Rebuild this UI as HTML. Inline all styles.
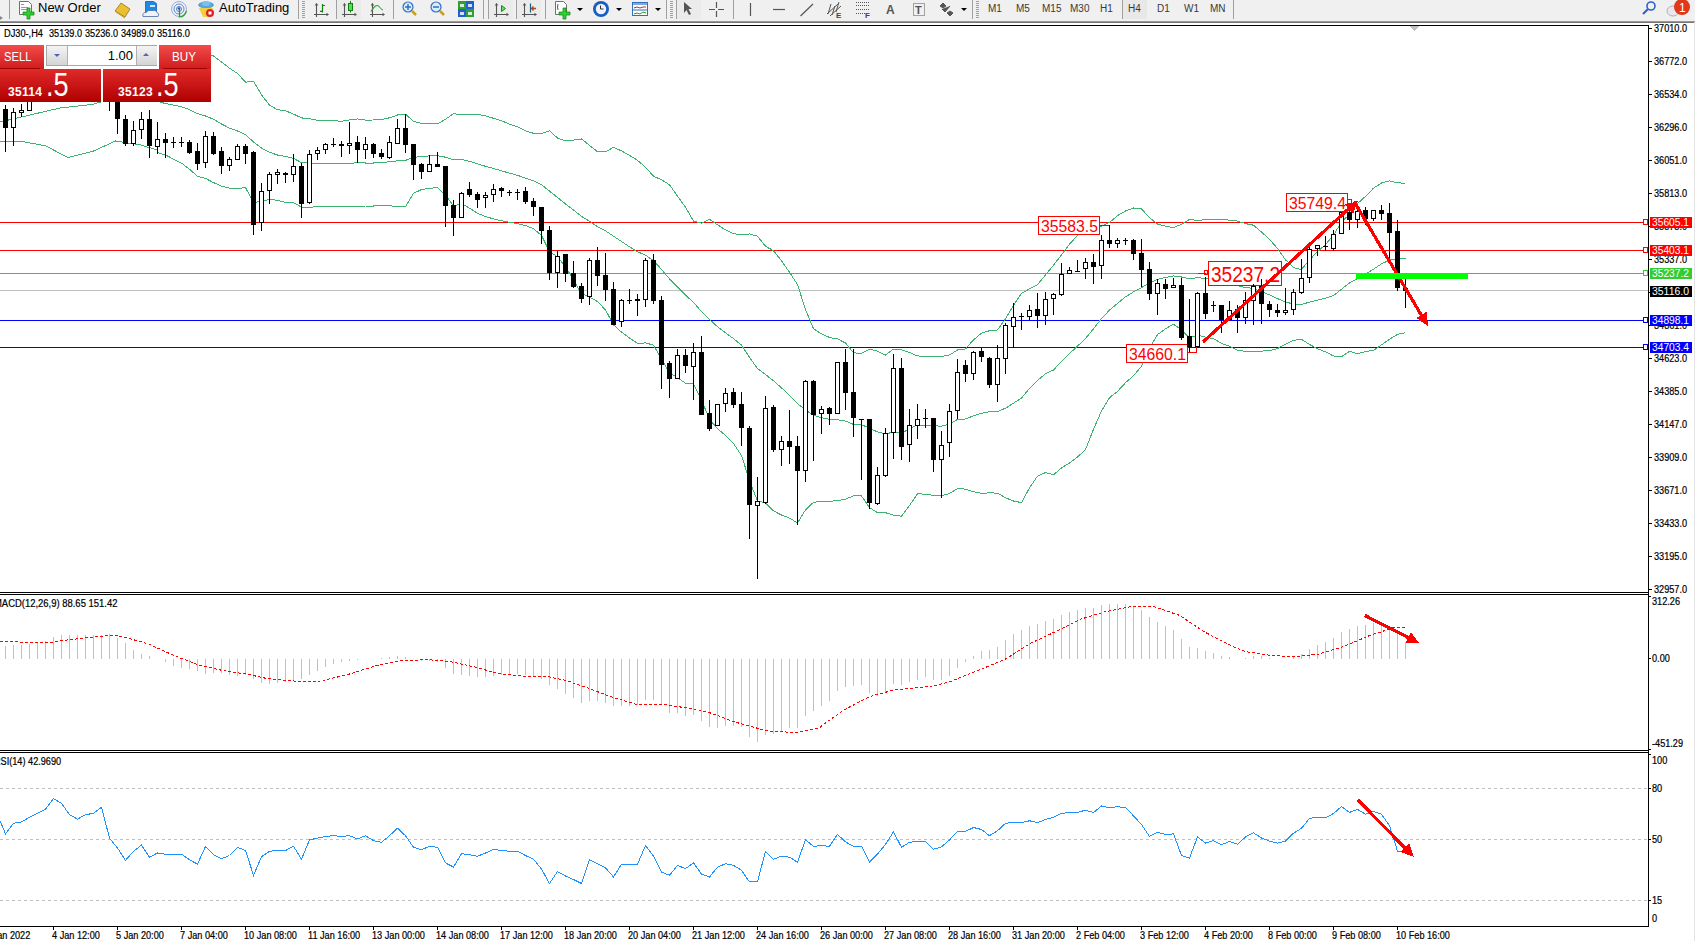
<!DOCTYPE html>
<html><head><meta charset="utf-8"><style>
html,body{margin:0;padding:0;}
body{width:1695px;height:941px;overflow:hidden;background:#fff;position:relative;font-family:"Liberation Sans",sans-serif;}
div{font-family:"Liberation Sans",sans-serif;white-space:nowrap;line-height:1.2}
svg text.ax{font-family:"Liberation Sans",sans-serif;font-size:10px;stroke:currentColor;stroke-width:0.2px}
</style></head><body>

<div style="position:absolute;left:0;top:0;width:1695px;height:21px;background:#f0f0f0"></div>
<div style="position:absolute;left:0;top:21px;width:1695px;height:2px;background:linear-gradient(#a8a8a8,#646464)"></div>
<div style="position:absolute;left:9px;top:0;width:1px;height:19px;background:#a0a0a0"></div><div style="position:absolute;left:298px;top:0;width:1px;height:19px;background:#a0a0a0"></div><div style="position:absolute;left:336px;top:0;width:1px;height:19px;background:#a0a0a0"></div><div style="position:absolute;left:393px;top:0;width:1px;height:19px;background:#a0a0a0"></div><div style="position:absolute;left:483px;top:0;width:1px;height:19px;background:#a0a0a0"></div><div style="position:absolute;left:488px;top:0;width:1px;height:19px;background:#a0a0a0"></div><div style="position:absolute;left:516px;top:0;width:1px;height:19px;background:#a0a0a0"></div><div style="position:absolute;left:545px;top:0;width:1px;height:19px;background:#a0a0a0"></div><div style="position:absolute;left:666px;top:0;width:1px;height:19px;background:#a0a0a0"></div><div style="position:absolute;left:676px;top:0;width:1px;height:19px;background:#a0a0a0"></div><div style="position:absolute;left:733px;top:0;width:1px;height:19px;background:#a0a0a0"></div><div style="position:absolute;left:972px;top:0;width:1px;height:19px;background:#a0a0a0"></div><div style="position:absolute;left:1122px;top:0;width:1px;height:19px;background:#a0a0a0"></div><div style="position:absolute;left:1233px;top:0;width:1px;height:19px;background:#a0a0a0"></div><div style="position:absolute;left:302px;top:1px;width:3px;height:17px;background:repeating-linear-gradient(#a0a0a0 0 1px,transparent 1px 2px)"></div><div style="position:absolute;left:670px;top:1px;width:3px;height:17px;background:repeating-linear-gradient(#a0a0a0 0 1px,transparent 1px 2px)"></div><div style="position:absolute;left:976px;top:1px;width:3px;height:17px;background:repeating-linear-gradient(#a0a0a0 0 1px,transparent 1px 2px)"></div>
<div style="position:absolute;left:38px;top:0px;font-size:13px;color:#000">New Order</div>
<div style="position:absolute;left:219px;top:0px;font-size:13px;color:#000">AutoTrading</div>
<div style="position:absolute;left:1123px;top:0;width:24px;height:19px;background:#e8e8e8"></div><div style="position:absolute;left:988px;top:3px;font-size:10px;color:#3a3a3a">M1</div><div style="position:absolute;left:1016px;top:3px;font-size:10px;color:#3a3a3a">M5</div><div style="position:absolute;left:1042px;top:3px;font-size:10px;color:#3a3a3a">M15</div><div style="position:absolute;left:1070px;top:3px;font-size:10px;color:#3a3a3a">M30</div><div style="position:absolute;left:1100px;top:3px;font-size:10px;color:#3a3a3a">H1</div><div style="position:absolute;left:1128px;top:3px;font-size:10px;color:#3a3a3a">H4</div><div style="position:absolute;left:1157px;top:3px;font-size:10px;color:#3a3a3a">D1</div><div style="position:absolute;left:1184px;top:3px;font-size:10px;color:#3a3a3a">W1</div><div style="position:absolute;left:1210px;top:3px;font-size:10px;color:#3a3a3a">MN</div>
<svg style="position:absolute;left:0;top:0" width="1695" height="21"><path d="M316.5,17 V3.5 M314.0,14.5 H327.5" stroke="#555" stroke-width="1.1" fill="none"/><path d="M314.7,5.5 L316.5,3 L318.3,5.5z M326.5,12.7 L329.0,14.5 L326.5,16.3z" fill="#555"/><path d="M322.5,4 V12.5 M322.5,5.5 H325 M320,11.3 H322.5" stroke="#108010" stroke-width="1.2" fill="none"/><rect x="337" y="0" width="24" height="19" fill="#ebebeb"/><path d="M344.5,17 V3.5 M342.0,14.5 H355.5" stroke="#555" stroke-width="1.1" fill="none"/><path d="M342.7,5.5 L344.5,3 L346.3,5.5z M354.5,12.7 L357.0,14.5 L354.5,16.3z" fill="#555"/><path d="M350.5,1 V12.5" stroke="#108010" stroke-width="1"/><rect x="348.5" y="3.5" width="4" height="7" fill="#50e050" stroke="#108010" stroke-width="1"/><path d="M372.5,17 V3.5 M370.0,14.5 H383.5" stroke="#555" stroke-width="1.1" fill="none"/><path d="M370.7,5.5 L372.5,3 L374.3,5.5z M382.5,12.7 L385.0,14.5 L382.5,16.3z" fill="#555"/><path d="M371,11.5 Q376,3 379,6.5 T383,10" stroke="#30a030" stroke-width="1.1" fill="none"/><rect x="489" y="0" width="24" height="19" fill="#ebebeb"/><path d="M496.5,17 V3.5 M494.0,14.5 H507.5" stroke="#555" stroke-width="1.1" fill="none"/><path d="M494.7,5.5 L496.5,3 L498.3,5.5z M506.5,12.7 L509.0,14.5 L506.5,16.3z" fill="#555"/><path d="M501.5,5.5 L505.5,8.5 L501.5,11.5z" fill="#60e060" stroke="#109010" stroke-width="1"/><rect x="517" y="0" width="24" height="19" fill="#ebebeb"/><path d="M524.5,17 V3.5 M522.0,14.5 H535.5" stroke="#555" stroke-width="1.1" fill="none"/><path d="M522.7,5.5 L524.5,3 L526.3,5.5z M534.5,12.7 L537.0,14.5 L534.5,16.3z" fill="#555"/><path d="M530.5,3.5 V12.5" stroke="#106090" stroke-width="1.2"/><path d="M536,8.5 H532 M533.5,6.5 L531.5,8.5 L533.5,10.5" stroke="#c04010" stroke-width="1.3" fill="none"/><rect x="677" y="0" width="24" height="19" fill="#ebebeb"/>
<path d="M0,16 l3,2 -3,2z" fill="#888"/>
<path d="M19.5,1.5 h9 l3,3 v10 h-12z" fill="#fff" stroke="#707070"/>
<rect x="21" y="4" width="3" height="1" fill="#999"/><rect x="21" y="7" width="7" height="1" fill="#999"/><rect x="21" y="9" width="7" height="1" fill="#999"/>
<path d="M27,8 h3 v4 h4 v3 h-4 v4 h-3 v-4 h-4 v-3 h4z" fill="#30d030" stroke="#108010" stroke-width="0.7"/>
<path d="M115,11 l6,-8 l9,6 l-5,8z" fill="#e8c030" stroke="#a07010" stroke-width="0.8"/>
<path d="M116,12 l9,6" stroke="#c09030" stroke-width="1"/>
<path d="M145.5,1.5 h8 l3,2 v9 h-11z" fill="#1e88e5" stroke="#1060c0" stroke-width="0.8"/>
<rect x="150" y="5" width="5" height="2" fill="#fff" opacity="0.8"/>
<path d="M143,16.5 q-1,-4 3,-4 q2,-3 6,-2 q4,-1 5,2 q3,1 1,4z" fill="#eef2fa" stroke="#4a6aa0" stroke-width="0.8"/>
<circle cx="179" cy="9" r="7.5" fill="none" stroke="#7aa0e0" stroke-width="0.8"/>
<circle cx="179" cy="9" r="5" fill="none" stroke="#5080d0" stroke-width="0.9"/>
<circle cx="179" cy="9" r="2.5" fill="none" stroke="#4070c0" stroke-width="0.9"/>
<circle cx="179" cy="8.5" r="1.2" fill="#2050b0"/>
<path d="M179.5,9 v8 q5,0 7,-6" fill="none" stroke="#20a020" stroke-width="1.2"/>
<ellipse cx="206" cy="5" rx="7.5" ry="3" fill="#5aa8e0" stroke="#3a88c0" stroke-width="0.6"/>
<ellipse cx="206" cy="3.5" rx="4" ry="2.5" fill="#7ac0f0"/>
<path d="M199,8 h14 l-4,9 h-6z" fill="#f0d040"/>
<circle cx="210" cy="13" r="4" fill="#e02020"/><rect x="208.5" y="11.5" width="3" height="3" fill="#fff"/>
<circle cx="408" cy="7" r="5" fill="#d8ecfa" stroke="#3070c0" stroke-width="1.2"/><path d="M405,7 h6 M408,4 v6" stroke="#3070c0" stroke-width="1.5"/><path d="M412,11 l4,4" stroke="#c8a020" stroke-width="2.5"/>
<circle cx="436" cy="7" r="5" fill="#d8ecfa" stroke="#3070c0" stroke-width="1.2"/><path d="M433,7 h6" stroke="#3070c0" stroke-width="1.5"/><path d="M440,11 l4,4" stroke="#c8a020" stroke-width="2.5"/>
<rect x="458" y="1" width="8" height="8" fill="#30a030"/><rect x="466" y="1" width="8" height="8" fill="#2060d0"/>
<rect x="458" y="9" width="8" height="8" fill="#2060d0"/><rect x="466" y="9" width="8" height="8" fill="#30a030"/>
<rect x="460" y="4" width="4" height="3" fill="#fff" opacity="0.8"/><rect x="468" y="4" width="4" height="3" fill="#fff" opacity="0.8"/><rect x="460" y="12" width="4" height="3" fill="#fff" opacity="0.8"/><rect x="468" y="12" width="4" height="3" fill="#fff" opacity="0.8"/>
<path d="M555.5,1.5 h8 l3,3 v10 h-11z" fill="#fff" stroke="#707070"/>
<path d="M558,4 q-1,3 0,6" stroke="#555" fill="none"/>
<path d="M563,8 h3 v4 h4 v3 h-4 v4 h-3 v-4 h-4 v-3 h4z" fill="#30d030" stroke="#108010" stroke-width="0.7"/>
<path d="M577,8 h6 l-3,3z" fill="#000"/>
<circle cx="601" cy="9" r="8" fill="#1a5ec0"/><circle cx="601" cy="9" r="5.2" fill="#eef4ff"/><path d="M600.5,5.5 v3.5 h3" stroke="#333" fill="none"/>
<path d="M616,8 h6 l-3,3z" fill="#000"/>
<rect x="632.5" y="2.5" width="15" height="13" fill="#fff" stroke="#3070c0"/><rect x="633" y="3" width="14" height="2" fill="#80a8e0"/><rect x="633" y="9.5" width="14" height="1" fill="#3070c0"/>
<path d="M634,8 l3,-1 3,1 3,-1 3,0" stroke="#c03020" fill="none"/><path d="M634,14 l3,-1 3,1 3,-2 3,1" stroke="#20a020" fill="none"/>
<path d="M655,8 h6 l-3,3z" fill="#000"/>
<path d="M684,2 l8,7 h-3.5 l2.5,5 -2,1 -2.5,-5 -2.5,3z" fill="#555"/>
<path d="M709,9.5 h6 M718,9.5 h6 M716.5,2 v6 M716.5,11 v6" stroke="#555" stroke-width="1.2"/>
<path d="M750.5,3 v13" stroke="#555" stroke-width="1.2"/>
<path d="M773,9.5 h12" stroke="#555" stroke-width="1.2"/>
<path d="M800.5,16 l12.5,-12" stroke="#555" stroke-width="1.2"/>
<path d="M827,14 l11,-10 M830,16 l11,-10 M831,4 l-3,10 M835,6 l-3,9 M839,2 l-3,10" stroke="#555" stroke-width="1"/>
<text x="836" y="18" font-size="8" font-weight="bold" fill="#444" font-family="Liberation Sans">E</text>
<path d="M856,2.5 h13 M856,5.5 h13 M856,9.5 h13 M856,13.5 h9" stroke="#555" stroke-dasharray="1,1"/>
<text x="865" y="18" font-size="8" font-weight="bold" fill="#444" font-family="Liberation Sans">F</text>
<text x="886" y="14" font-size="12" font-weight="bold" fill="#555" font-family="Liberation Sans">A</text>
<rect x="913.5" y="3.5" width="11" height="12" fill="none" stroke="#555" stroke-dasharray="1,1"/>
<text x="915" y="14" font-size="11" font-weight="bold" fill="#555" font-family="Liberation Sans">T</text>
<path d="M940,6 l3,-3 3,3 -3,2z M947,13 l3,-2 3,2 -3,3z M942,9 l3,3 5,-6" fill="#555" stroke="#555"/>
<path d="M961,8 h6 l-3,3z" fill="#000"/>
<circle cx="1651" cy="6" r="4" fill="none" stroke="#2a62d0" stroke-width="1.6"/><path d="M1648,9 l-5,5" stroke="#2a62d0" stroke-width="2.2"/>
<ellipse cx="1673" cy="11" rx="6" ry="5" fill="#e8e8ee" stroke="#b0b0b8"/>
<circle cx="1682" cy="7" r="8" fill="#e03818"/>
<text x="1679" y="12" font-size="12" fill="#fff" font-family="Liberation Sans">1</text>
</svg>

<svg style="position:absolute;left:0;top:0" width="1695" height="941" shape-rendering="crispEdges"><rect x="0" y="222" width="1648" height="1" fill="#ff0000"/><rect x="0" y="250" width="1648" height="1" fill="#ff0000"/><rect x="0" y="273" width="1648" height="1" fill="#32cd32"/><rect x="0" y="290" width="1648" height="1" fill="#c0c0c0"/><rect x="0" y="320" width="1648" height="1" fill="#0000ff"/><rect x="0" y="347" width="1648" height="1" fill="#0000ff"/><polyline points="0.0,122.0 30.0,115.0 60.0,108.0 93.0,104.4 110.0,99.0 150.0,99.0 165.5,103.6 173.5,105.1 181.5,106.7 189.5,109.6 197.5,113.7 205.5,116.0 213.5,119.2 221.5,124.0 229.5,128.1 237.5,131.0 245.5,134.8 253.5,141.9 261.5,148.1 269.5,152.3 277.5,155.0 285.5,156.5 293.5,158.4 301.5,162.6 309.5,163.0 317.5,163.5 325.5,163.6 333.5,163.7 341.5,163.9 349.5,163.4 357.5,162.7 365.5,163.0 373.5,163.0 381.5,162.6 389.5,161.7 397.5,160.8 405.5,160.4 413.5,157.4 421.5,156.4 429.5,155.9 437.5,155.7 445.5,157.2 453.5,159.8 461.5,159.3 469.5,161.3 477.5,163.8 485.5,166.3 493.5,168.5 501.5,170.8 509.5,173.2 517.5,175.3 525.5,178.2 533.5,180.9 541.5,184.6 549.5,191.1 557.5,197.5 565.5,203.9 573.5,210.0 581.5,216.4 589.5,221.2 597.5,226.6 605.5,230.8 613.5,236.2 621.5,241.5 629.5,246.8 637.5,251.8 645.5,255.1 653.5,260.7 661.5,269.4 669.5,278.8 677.5,286.9 685.5,295.1 693.5,302.4 701.5,311.6 709.5,319.4 717.5,326.7 725.5,332.7 733.5,338.6 741.5,345.1 749.5,357.3 757.5,368.6 765.5,374.5 773.5,380.8 781.5,387.9 789.5,395.2 797.5,403.7 805.5,409.8 813.5,415.4 821.5,417.6 829.5,419.4 837.5,419.7 845.5,421.1 853.5,424.4 861.5,424.6 869.5,428.3 877.5,431.9 885.5,433.9 893.5,432.1 901.5,433.0 909.5,429.0 917.5,424.9 925.5,425.4 933.5,425.9 941.5,426.1 949.5,424.3 957.5,419.3 965.5,419.0 973.5,415.8 981.5,413.2 989.5,411.8 997.5,411.6 1005.5,408.2 1013.5,403.2 1021.5,398.0 1029.5,388.4 1037.5,380.4 1045.5,373.7 1053.5,370.0 1061.5,361.3 1069.5,353.6 1077.5,346.2 1085.5,338.4 1093.5,328.8 1101.5,318.5 1109.5,310.1 1117.5,303.5 1125.5,296.8 1133.5,291.9 1141.5,287.6 1149.5,283.0 1157.5,279.3 1165.5,277.4 1173.5,275.9 1181.5,277.0 1189.5,278.8 1197.5,277.7 1205.5,278.4 1213.5,278.9 1221.5,281.3 1229.5,283.2 1237.5,285.6 1245.5,287.5 1253.5,288.5 1261.5,291.6 1269.5,294.9 1277.5,298.6 1285.5,302.0 1293.5,304.0 1301.5,304.4 1309.5,302.2 1317.5,300.2 1325.5,298.2 1333.5,295.6 1341.5,289.2 1349.5,282.9 1357.5,278.7 1365.5,274.0 1373.5,269.2 1381.5,263.9 1389.5,260.1 1397.5,258.5 1405.5,258.1" fill="none" stroke="#3cb371" stroke-width="1" /><polyline points="0.0,141.0 20.0,141.0 46.0,146.0 68.0,157.6 93.5,151.0 115.6,141.0 141.0,145.0 157.0,150.0 157.5,152.5 165.5,155.0 173.5,159.1 181.5,163.1 189.5,169.2 197.5,176.4 205.5,178.4 213.5,182.6 221.5,186.1 229.5,188.1 237.5,188.5 245.5,187.6 253.5,202.4 261.5,201.4 269.5,199.5 277.5,200.3 285.5,202.3 293.5,202.6 301.5,207.2 309.5,207.2 317.5,206.8 325.5,206.8 333.5,206.7 341.5,206.5 349.5,206.7 357.5,206.4 365.5,206.0 373.5,206.0 381.5,205.7 389.5,205.7 397.5,206.7 405.5,206.7 413.5,193.3 421.5,189.6 429.5,188.3 437.5,187.6 445.5,195.2 453.5,206.0 461.5,203.6 469.5,208.2 477.5,213.2 485.5,216.7 493.5,218.8 501.5,220.8 509.5,222.2 517.5,223.7 525.5,225.6 533.5,228.5 541.5,235.6 549.5,251.5 557.5,256.9 565.5,266.9 573.5,279.9 581.5,293.8 589.5,296.9 597.5,301.6 605.5,309.9 613.5,324.9 621.5,332.1 629.5,338.1 637.5,343.4 645.5,342.9 653.5,345.1 661.5,359.0 669.5,372.8 677.5,377.7 685.5,383.2 693.5,383.9 701.5,400.0 709.5,419.4 717.5,428.7 725.5,435.4 733.5,443.6 741.5,455.4 749.5,480.7 757.5,501.0 765.5,502.8 773.5,510.9 781.5,515.0 789.5,518.1 797.5,522.9 805.5,509.9 813.5,502.3 821.5,501.4 829.5,501.3 837.5,500.6 845.5,499.2 853.5,495.8 861.5,496.0 869.5,507.5 877.5,512.7 885.5,512.7 893.5,515.1 901.5,516.3 909.5,505.5 917.5,493.9 925.5,494.1 933.5,495.4 941.5,495.7 949.5,493.5 957.5,488.6 965.5,489.1 973.5,491.8 981.5,493.3 989.5,492.9 997.5,493.1 1005.5,497.8 1013.5,501.0 1021.5,502.6 1029.5,487.8 1037.5,476.2 1045.5,472.5 1053.5,474.8 1061.5,467.9 1069.5,463.0 1077.5,456.9 1085.5,449.7 1093.5,429.2 1101.5,411.0 1109.5,397.7 1117.5,391.4 1125.5,382.7 1133.5,375.8 1141.5,366.3 1149.5,348.2 1157.5,334.6 1165.5,328.8 1173.5,324.2 1181.5,329.7 1189.5,338.1 1197.5,335.0 1205.5,337.2 1213.5,338.5 1221.5,343.4 1229.5,346.3 1237.5,350.2 1245.5,351.4 1253.5,351.7 1261.5,351.1 1269.5,350.6 1277.5,348.5 1285.5,344.3 1293.5,340.4 1301.5,339.3 1309.5,344.4 1317.5,348.8 1325.5,351.8 1333.5,356.0 1341.5,356.6 1349.5,351.3 1357.5,353.8 1365.5,351.6 1373.5,350.3 1381.5,344.9 1389.5,339.3 1397.5,334.3 1405.5,332.8" fill="none" stroke="#3cb371" stroke-width="1" /><polyline points="0.0,100.0 60.0,80.0 100.0,60.0 140.0,45.0 157.0,50.0 157.5,53.3 165.5,52.2 173.5,51.1 181.5,50.4 189.5,50.1 197.5,51.0 205.5,53.7 213.5,55.9 221.5,61.9 229.5,68.2 237.5,73.5 245.5,82.1 253.5,81.4 261.5,94.8 269.5,105.1 277.5,109.7 285.5,110.7 293.5,114.1 301.5,117.9 309.5,118.8 317.5,120.2 325.5,120.4 333.5,120.7 341.5,121.3 349.5,120.0 357.5,118.9 365.5,120.1 373.5,120.0 381.5,119.5 389.5,117.8 397.5,115.0 405.5,114.1 413.5,121.5 421.5,123.3 429.5,123.6 437.5,123.8 445.5,119.3 453.5,113.6 461.5,114.9 469.5,114.4 477.5,114.3 485.5,115.9 493.5,118.3 501.5,120.7 509.5,124.2 517.5,126.8 525.5,130.8 533.5,133.3 541.5,133.5 549.5,130.7 557.5,138.0 565.5,140.9 573.5,140.1 581.5,138.9 589.5,145.4 597.5,151.7 605.5,151.7 613.5,147.4 621.5,150.9 629.5,155.4 637.5,160.3 645.5,167.2 653.5,176.2 661.5,179.8 669.5,184.7 677.5,196.2 685.5,207.1 693.5,221.0 701.5,223.2 709.5,219.3 717.5,224.8 725.5,229.9 733.5,233.6 741.5,234.8 749.5,233.9 757.5,236.2 765.5,246.3 773.5,250.7 781.5,260.8 789.5,272.3 797.5,284.5 805.5,309.6 813.5,328.6 821.5,333.9 829.5,337.5 837.5,338.9 845.5,343.0 853.5,352.9 861.5,353.2 869.5,349.2 877.5,351.1 885.5,355.1 893.5,349.1 901.5,349.8 909.5,352.5 917.5,355.9 925.5,356.7 933.5,356.4 941.5,356.4 949.5,355.0 957.5,350.0 965.5,348.9 973.5,339.9 981.5,333.1 989.5,330.7 997.5,330.0 1005.5,318.7 1013.5,305.3 1021.5,293.4 1029.5,288.9 1037.5,284.6 1045.5,274.9 1053.5,265.2 1061.5,254.8 1069.5,244.2 1077.5,235.4 1085.5,227.1 1093.5,228.3 1101.5,226.1 1109.5,222.5 1117.5,215.6 1125.5,211.0 1133.5,208.0 1141.5,208.8 1149.5,217.8 1157.5,224.0 1165.5,226.1 1173.5,227.6 1181.5,224.3 1189.5,219.5 1197.5,220.4 1205.5,219.7 1213.5,219.4 1221.5,219.2 1229.5,220.2 1237.5,221.1 1245.5,223.6 1253.5,225.2 1261.5,232.1 1269.5,239.2 1277.5,248.6 1285.5,259.8 1293.5,267.6 1301.5,269.5 1309.5,259.9 1317.5,251.7 1325.5,244.6 1333.5,235.2 1341.5,221.9 1349.5,214.4 1357.5,203.6 1365.5,196.4 1373.5,188.2 1381.5,183.0 1389.5,180.9 1397.5,182.8 1405.5,183.3" fill="none" stroke="#3cb371" stroke-width="1" /><rect x="1038.5" y="216.5" width="61" height="18" fill="#fff" stroke="#ff0000" stroke-width="1"/><text x="1041" y="232" font-size="17" fill="#ff0000" font-family="Liberation Sans" textLength="57" lengthAdjust="spacingAndGlyphs">35583.5</text><rect x="1100" y="225" width="9" height="1" fill="#ff0000"/><rect x="1286.5" y="193.5" width="61" height="18" fill="#fff" stroke="#ff0000" stroke-width="1"/><text x="1289" y="209" font-size="17" fill="#ff0000" font-family="Liberation Sans" textLength="57" lengthAdjust="spacingAndGlyphs">35749.4</text><rect x="1208.5" y="261.5" width="73" height="24" fill="#fff" stroke="#ff0000" stroke-width="1"/><text x="1211" y="282" font-size="22" fill="#ff0000" font-family="Liberation Sans" textLength="69" lengthAdjust="spacingAndGlyphs">35237.2</text><rect x="1198" y="273" width="8" height="1" fill="#ff0000"/><rect x="1204.5" y="270.5" width="3" height="4" fill="none" stroke="#ff0000"/><rect x="1126.5" y="344.5" width="61" height="18" fill="#fff" stroke="#ff0000" stroke-width="1"/><text x="1129" y="360" font-size="17" fill="#ff0000" font-family="Liberation Sans" textLength="57" lengthAdjust="spacingAndGlyphs">34660.1</text><rect x="1188" y="352" width="9" height="1" fill="#ff0000"/><rect x="1196" y="346" width="1" height="7" fill="#ff0000"/><g><rect x="5" y="105" width="1" height="47" fill="#000"/><rect x="3" y="109" width="5" height="19" fill="#000"/><rect x="13" y="108" width="1" height="38" fill="#000"/><rect x="11" y="112" width="5" height="16" fill="#000"/><rect x="12" y="113" width="3" height="14" fill="#fff"/><rect x="21" y="104" width="1" height="13" fill="#000"/><rect x="19" y="110" width="5" height="3" fill="#000"/><rect x="20" y="111" width="3" height="1" fill="#fff"/><rect x="29" y="90" width="1" height="21" fill="#000"/><rect x="27" y="95" width="5" height="16" fill="#000"/><rect x="28" y="96" width="3" height="14" fill="#fff"/><rect x="37" y="80" width="1" height="18" fill="#000"/><rect x="35" y="83" width="5" height="12" fill="#000"/><rect x="36" y="84" width="3" height="10" fill="#fff"/><rect x="45" y="79" width="1" height="14" fill="#000"/><rect x="43" y="83" width="5" height="6" fill="#000"/><rect x="53" y="84" width="1" height="11" fill="#000"/><rect x="51" y="89" width="5" height="2" fill="#000"/><rect x="61" y="66" width="1" height="26" fill="#000"/><rect x="59" y="70" width="5" height="20" fill="#000"/><rect x="60" y="71" width="3" height="18" fill="#fff"/><rect x="69" y="65" width="1" height="15" fill="#000"/><rect x="67" y="70" width="5" height="7" fill="#000"/><rect x="77" y="74" width="1" height="18" fill="#000"/><rect x="75" y="77" width="5" height="11" fill="#000"/><rect x="85" y="74" width="1" height="19" fill="#000"/><rect x="83" y="78" width="5" height="10" fill="#000"/><rect x="84" y="79" width="3" height="8" fill="#fff"/><rect x="93" y="74" width="1" height="14" fill="#000"/><rect x="91" y="78" width="5" height="6" fill="#000"/><rect x="101" y="62" width="1" height="24" fill="#000"/><rect x="99" y="66" width="5" height="18" fill="#000"/><rect x="100" y="67" width="3" height="16" fill="#fff"/><rect x="109" y="62" width="1" height="49" fill="#000"/><rect x="107" y="66" width="5" height="24" fill="#000"/><rect x="117" y="96" width="1" height="38" fill="#000"/><rect x="115" y="100" width="5" height="19" fill="#000"/><rect x="125" y="115" width="1" height="31" fill="#000"/><rect x="123" y="119" width="5" height="25" fill="#000"/><rect x="133" y="121" width="1" height="25" fill="#000"/><rect x="131" y="130" width="5" height="14" fill="#000"/><rect x="132" y="131" width="3" height="12" fill="#fff"/><rect x="141" y="112" width="1" height="27" fill="#000"/><rect x="139" y="119" width="5" height="11" fill="#000"/><rect x="140" y="120" width="3" height="9" fill="#fff"/><rect x="149" y="110" width="1" height="48" fill="#000"/><rect x="147" y="119" width="5" height="27" fill="#000"/><rect x="157" y="122" width="1" height="32" fill="#000"/><rect x="155" y="139" width="5" height="8" fill="#000"/><rect x="156" y="140" width="3" height="6" fill="#fff"/><rect x="165" y="133" width="1" height="25" fill="#000"/><rect x="163" y="139" width="5" height="4" fill="#000"/><rect x="173" y="137" width="1" height="11" fill="#000"/><rect x="171" y="142" width="5" height="1" fill="#000"/><rect x="181" y="137" width="1" height="10" fill="#000"/><rect x="179" y="142" width="5" height="1" fill="#000"/><rect x="189" y="140" width="1" height="14" fill="#000"/><rect x="187" y="142" width="5" height="11" fill="#000"/><rect x="197" y="143" width="1" height="27" fill="#000"/><rect x="195" y="151" width="5" height="13" fill="#000"/><rect x="205" y="131" width="1" height="37" fill="#000"/><rect x="203" y="136" width="5" height="27" fill="#000"/><rect x="204" y="137" width="3" height="25" fill="#fff"/><rect x="213" y="132" width="1" height="23" fill="#000"/><rect x="211" y="136" width="5" height="18" fill="#000"/><rect x="221" y="147" width="1" height="27" fill="#000"/><rect x="219" y="151" width="5" height="15" fill="#000"/><rect x="229" y="157" width="1" height="14" fill="#000"/><rect x="227" y="159" width="5" height="7" fill="#000"/><rect x="228" y="160" width="3" height="5" fill="#fff"/><rect x="237" y="144" width="1" height="16" fill="#000"/><rect x="235" y="146" width="5" height="14" fill="#000"/><rect x="236" y="147" width="3" height="12" fill="#fff"/><rect x="245" y="144" width="1" height="20" fill="#000"/><rect x="243" y="146" width="5" height="8" fill="#000"/><rect x="253" y="151" width="1" height="84" fill="#000"/><rect x="251" y="152" width="5" height="73" fill="#000"/><rect x="261" y="183" width="1" height="48" fill="#000"/><rect x="259" y="191" width="5" height="32" fill="#000"/><rect x="260" y="192" width="3" height="30" fill="#fff"/><rect x="269" y="172" width="1" height="32" fill="#000"/><rect x="267" y="174" width="5" height="17" fill="#000"/><rect x="268" y="175" width="3" height="15" fill="#fff"/><rect x="277" y="169" width="1" height="15" fill="#000"/><rect x="275" y="172" width="5" height="3" fill="#000"/><rect x="276" y="173" width="3" height="1" fill="#fff"/><rect x="285" y="172" width="1" height="11" fill="#000"/><rect x="283" y="173" width="5" height="2" fill="#000"/><rect x="293" y="154" width="1" height="28" fill="#000"/><rect x="291" y="166" width="5" height="9" fill="#000"/><rect x="292" y="167" width="3" height="7" fill="#fff"/><rect x="301" y="163" width="1" height="55" fill="#000"/><rect x="299" y="166" width="5" height="38" fill="#000"/><rect x="309" y="150" width="1" height="54" fill="#000"/><rect x="307" y="154" width="5" height="49" fill="#000"/><rect x="308" y="155" width="3" height="47" fill="#fff"/><rect x="317" y="147" width="1" height="13" fill="#000"/><rect x="315" y="150" width="5" height="4" fill="#000"/><rect x="316" y="151" width="3" height="2" fill="#fff"/><rect x="325" y="143" width="1" height="11" fill="#000"/><rect x="323" y="144" width="5" height="6" fill="#000"/><rect x="324" y="145" width="3" height="4" fill="#fff"/><rect x="333" y="138" width="1" height="9" fill="#000"/><rect x="331" y="144" width="5" height="1" fill="#000"/><rect x="341" y="141" width="1" height="16" fill="#000"/><rect x="339" y="144" width="5" height="2" fill="#000"/><rect x="349" y="122" width="1" height="32" fill="#000"/><rect x="347" y="143" width="5" height="3" fill="#000"/><rect x="348" y="144" width="3" height="1" fill="#fff"/><rect x="357" y="136" width="1" height="27" fill="#000"/><rect x="355" y="142" width="5" height="8" fill="#000"/><rect x="365" y="137" width="1" height="22" fill="#000"/><rect x="363" y="144" width="5" height="6" fill="#000"/><rect x="364" y="145" width="3" height="4" fill="#fff"/><rect x="373" y="143" width="1" height="15" fill="#000"/><rect x="371" y="144" width="5" height="10" fill="#000"/><rect x="381" y="149" width="1" height="10" fill="#000"/><rect x="379" y="153" width="5" height="4" fill="#000"/><rect x="389" y="136" width="1" height="23" fill="#000"/><rect x="387" y="142" width="5" height="16" fill="#000"/><rect x="388" y="143" width="3" height="14" fill="#fff"/><rect x="397" y="119" width="1" height="25" fill="#000"/><rect x="395" y="128" width="5" height="16" fill="#000"/><rect x="396" y="129" width="3" height="14" fill="#fff"/><rect x="405" y="114" width="1" height="39" fill="#000"/><rect x="403" y="128" width="5" height="17" fill="#000"/><rect x="413" y="144" width="1" height="36" fill="#000"/><rect x="411" y="144" width="5" height="21" fill="#000"/><rect x="421" y="163" width="1" height="16" fill="#000"/><rect x="419" y="164" width="5" height="8" fill="#000"/><rect x="429" y="155" width="1" height="17" fill="#000"/><rect x="427" y="164" width="5" height="8" fill="#000"/><rect x="428" y="165" width="3" height="6" fill="#fff"/><rect x="437" y="152" width="1" height="15" fill="#000"/><rect x="435" y="164" width="5" height="3" fill="#000"/><rect x="445" y="166" width="1" height="61" fill="#000"/><rect x="443" y="166" width="5" height="40" fill="#000"/><rect x="453" y="200" width="1" height="36" fill="#000"/><rect x="451" y="205" width="5" height="13" fill="#000"/><rect x="461" y="192" width="1" height="26" fill="#000"/><rect x="459" y="193" width="5" height="25" fill="#000"/><rect x="460" y="194" width="3" height="23" fill="#fff"/><rect x="469" y="182" width="1" height="15" fill="#000"/><rect x="467" y="189" width="5" height="6" fill="#000"/><rect x="477" y="192" width="1" height="16" fill="#000"/><rect x="475" y="194" width="5" height="6" fill="#000"/><rect x="485" y="192" width="1" height="16" fill="#000"/><rect x="483" y="195" width="5" height="3" fill="#000"/><rect x="484" y="196" width="3" height="1" fill="#fff"/><rect x="493" y="184" width="1" height="18" fill="#000"/><rect x="491" y="189" width="5" height="6" fill="#000"/><rect x="492" y="190" width="3" height="4" fill="#fff"/><rect x="501" y="187" width="1" height="10" fill="#000"/><rect x="499" y="188" width="5" height="3" fill="#000"/><rect x="509" y="190" width="1" height="6" fill="#000"/><rect x="507" y="192" width="5" height="1" fill="#000"/><rect x="517" y="189" width="1" height="11" fill="#000"/><rect x="515" y="192" width="5" height="1" fill="#000"/><rect x="525" y="187" width="1" height="17" fill="#000"/><rect x="523" y="191" width="5" height="11" fill="#000"/><rect x="533" y="198" width="1" height="18" fill="#000"/><rect x="531" y="201" width="5" height="6" fill="#000"/><rect x="541" y="207" width="1" height="37" fill="#000"/><rect x="539" y="207" width="5" height="24" fill="#000"/><rect x="549" y="226" width="1" height="54" fill="#000"/><rect x="547" y="230" width="5" height="43" fill="#000"/><rect x="557" y="251" width="1" height="37" fill="#000"/><rect x="555" y="256" width="5" height="17" fill="#000"/><rect x="556" y="257" width="3" height="15" fill="#fff"/><rect x="565" y="254" width="1" height="28" fill="#000"/><rect x="563" y="254" width="5" height="20" fill="#000"/><rect x="573" y="261" width="1" height="27" fill="#000"/><rect x="571" y="273" width="5" height="14" fill="#000"/><rect x="581" y="283" width="1" height="20" fill="#000"/><rect x="579" y="286" width="5" height="13" fill="#000"/><rect x="589" y="258" width="1" height="47" fill="#000"/><rect x="587" y="260" width="5" height="37" fill="#000"/><rect x="588" y="261" width="3" height="35" fill="#fff"/><rect x="597" y="247" width="1" height="39" fill="#000"/><rect x="595" y="260" width="5" height="16" fill="#000"/><rect x="605" y="253" width="1" height="48" fill="#000"/><rect x="603" y="275" width="5" height="15" fill="#000"/><rect x="613" y="282" width="1" height="43" fill="#000"/><rect x="611" y="289" width="5" height="36" fill="#000"/><rect x="621" y="299" width="1" height="28" fill="#000"/><rect x="619" y="300" width="5" height="22" fill="#000"/><rect x="620" y="301" width="3" height="20" fill="#fff"/><rect x="629" y="289" width="1" height="15" fill="#000"/><rect x="627" y="300" width="5" height="1" fill="#000"/><rect x="637" y="294" width="1" height="22" fill="#000"/><rect x="635" y="299" width="5" height="2" fill="#000"/><rect x="645" y="258" width="1" height="49" fill="#000"/><rect x="643" y="260" width="5" height="40" fill="#000"/><rect x="644" y="261" width="3" height="38" fill="#fff"/><rect x="653" y="254" width="1" height="50" fill="#000"/><rect x="651" y="260" width="5" height="41" fill="#000"/><rect x="661" y="296" width="1" height="93" fill="#000"/><rect x="659" y="300" width="5" height="65" fill="#000"/><rect x="669" y="361" width="1" height="37" fill="#000"/><rect x="667" y="363" width="5" height="16" fill="#000"/><rect x="677" y="349" width="1" height="30" fill="#000"/><rect x="675" y="355" width="5" height="24" fill="#000"/><rect x="676" y="356" width="3" height="22" fill="#fff"/><rect x="685" y="349" width="1" height="24" fill="#000"/><rect x="683" y="355" width="5" height="11" fill="#000"/><rect x="693" y="343" width="1" height="57" fill="#000"/><rect x="691" y="352" width="5" height="15" fill="#000"/><rect x="692" y="353" width="3" height="13" fill="#fff"/><rect x="701" y="336" width="1" height="79" fill="#000"/><rect x="699" y="352" width="5" height="63" fill="#000"/><rect x="709" y="400" width="1" height="31" fill="#000"/><rect x="707" y="413" width="5" height="16" fill="#000"/><rect x="717" y="404" width="1" height="22" fill="#000"/><rect x="715" y="404" width="5" height="22" fill="#000"/><rect x="716" y="405" width="3" height="20" fill="#fff"/><rect x="725" y="388" width="1" height="24" fill="#000"/><rect x="723" y="393" width="5" height="11" fill="#000"/><rect x="724" y="394" width="3" height="9" fill="#fff"/><rect x="733" y="388" width="1" height="20" fill="#000"/><rect x="731" y="392" width="5" height="13" fill="#000"/><rect x="741" y="392" width="1" height="54" fill="#000"/><rect x="739" y="404" width="5" height="24" fill="#000"/><rect x="749" y="426" width="1" height="113" fill="#000"/><rect x="747" y="428" width="5" height="77" fill="#000"/><rect x="757" y="477" width="1" height="102" fill="#000"/><rect x="755" y="501" width="5" height="5" fill="#000"/><rect x="756" y="502" width="3" height="3" fill="#fff"/><rect x="765" y="396" width="1" height="108" fill="#000"/><rect x="763" y="408" width="5" height="95" fill="#000"/><rect x="764" y="409" width="3" height="93" fill="#fff"/><rect x="773" y="405" width="1" height="47" fill="#000"/><rect x="771" y="407" width="5" height="43" fill="#000"/><rect x="781" y="436" width="1" height="30" fill="#000"/><rect x="779" y="441" width="5" height="9" fill="#000"/><rect x="780" y="442" width="3" height="7" fill="#fff"/><rect x="789" y="410" width="1" height="54" fill="#000"/><rect x="787" y="441" width="5" height="6" fill="#000"/><rect x="797" y="436" width="1" height="89" fill="#000"/><rect x="795" y="446" width="5" height="25" fill="#000"/><rect x="805" y="380" width="1" height="102" fill="#000"/><rect x="803" y="381" width="5" height="90" fill="#000"/><rect x="804" y="382" width="3" height="88" fill="#fff"/><rect x="813" y="380" width="1" height="81" fill="#000"/><rect x="811" y="381" width="5" height="34" fill="#000"/><rect x="821" y="406" width="1" height="28" fill="#000"/><rect x="819" y="409" width="5" height="5" fill="#000"/><rect x="820" y="410" width="3" height="3" fill="#fff"/><rect x="829" y="407" width="1" height="18" fill="#000"/><rect x="827" y="408" width="5" height="6" fill="#000"/><rect x="837" y="362" width="1" height="52" fill="#000"/><rect x="835" y="362" width="5" height="52" fill="#000"/><rect x="836" y="363" width="3" height="50" fill="#fff"/><rect x="845" y="349" width="1" height="61" fill="#000"/><rect x="843" y="362" width="5" height="31" fill="#000"/><rect x="853" y="349" width="1" height="88" fill="#000"/><rect x="851" y="392" width="5" height="26" fill="#000"/><rect x="861" y="419" width="1" height="61" fill="#000"/><rect x="859" y="419" width="5" height="1" fill="#000"/><rect x="869" y="419" width="1" height="90" fill="#000"/><rect x="867" y="419" width="5" height="84" fill="#000"/><rect x="877" y="467" width="1" height="38" fill="#000"/><rect x="875" y="475" width="5" height="29" fill="#000"/><rect x="876" y="476" width="3" height="27" fill="#fff"/><rect x="885" y="428" width="1" height="49" fill="#000"/><rect x="883" y="433" width="5" height="43" fill="#000"/><rect x="884" y="434" width="3" height="41" fill="#fff"/><rect x="893" y="354" width="1" height="105" fill="#000"/><rect x="891" y="368" width="5" height="65" fill="#000"/><rect x="892" y="369" width="3" height="63" fill="#fff"/><rect x="901" y="358" width="1" height="102" fill="#000"/><rect x="899" y="368" width="5" height="79" fill="#000"/><rect x="909" y="409" width="1" height="53" fill="#000"/><rect x="907" y="425" width="5" height="20" fill="#000"/><rect x="908" y="426" width="3" height="18" fill="#fff"/><rect x="917" y="404" width="1" height="35" fill="#000"/><rect x="915" y="419" width="5" height="7" fill="#000"/><rect x="916" y="420" width="3" height="5" fill="#fff"/><rect x="925" y="409" width="1" height="19" fill="#000"/><rect x="923" y="418" width="5" height="1" fill="#000"/><rect x="933" y="418" width="1" height="54" fill="#000"/><rect x="931" y="418" width="5" height="42" fill="#000"/><rect x="941" y="431" width="1" height="67" fill="#000"/><rect x="939" y="445" width="5" height="15" fill="#000"/><rect x="940" y="446" width="3" height="13" fill="#fff"/><rect x="949" y="404" width="1" height="53" fill="#000"/><rect x="947" y="411" width="5" height="32" fill="#000"/><rect x="948" y="412" width="3" height="30" fill="#fff"/><rect x="957" y="359" width="1" height="60" fill="#000"/><rect x="955" y="372" width="5" height="39" fill="#000"/><rect x="956" y="373" width="3" height="37" fill="#fff"/><rect x="965" y="360" width="1" height="22" fill="#000"/><rect x="963" y="365" width="5" height="9" fill="#000"/><rect x="973" y="351" width="1" height="29" fill="#000"/><rect x="971" y="352" width="5" height="22" fill="#000"/><rect x="972" y="353" width="3" height="20" fill="#fff"/><rect x="981" y="348" width="1" height="14" fill="#000"/><rect x="979" y="351" width="5" height="6" fill="#000"/><rect x="989" y="357" width="1" height="31" fill="#000"/><rect x="987" y="358" width="5" height="27" fill="#000"/><rect x="997" y="345" width="1" height="57" fill="#000"/><rect x="995" y="358" width="5" height="27" fill="#000"/><rect x="996" y="359" width="3" height="25" fill="#fff"/><rect x="1005" y="323" width="1" height="51" fill="#000"/><rect x="1003" y="325" width="5" height="34" fill="#000"/><rect x="1004" y="326" width="3" height="32" fill="#fff"/><rect x="1013" y="303" width="1" height="45" fill="#000"/><rect x="1011" y="317" width="5" height="10" fill="#000"/><rect x="1012" y="318" width="3" height="8" fill="#fff"/><rect x="1021" y="313" width="1" height="17" fill="#000"/><rect x="1019" y="316" width="5" height="1" fill="#000"/><rect x="1029" y="305" width="1" height="15" fill="#000"/><rect x="1027" y="310" width="5" height="7" fill="#000"/><rect x="1028" y="311" width="3" height="5" fill="#fff"/><rect x="1037" y="293" width="1" height="35" fill="#000"/><rect x="1035" y="309" width="5" height="7" fill="#000"/><rect x="1045" y="292" width="1" height="33" fill="#000"/><rect x="1043" y="299" width="5" height="17" fill="#000"/><rect x="1044" y="300" width="3" height="15" fill="#fff"/><rect x="1053" y="293" width="1" height="22" fill="#000"/><rect x="1051" y="294" width="5" height="5" fill="#000"/><rect x="1052" y="295" width="3" height="3" fill="#fff"/><rect x="1061" y="263" width="1" height="33" fill="#000"/><rect x="1059" y="274" width="5" height="21" fill="#000"/><rect x="1060" y="275" width="3" height="19" fill="#fff"/><rect x="1069" y="267" width="1" height="7" fill="#000"/><rect x="1067" y="270" width="5" height="4" fill="#000"/><rect x="1068" y="271" width="3" height="2" fill="#fff"/><rect x="1077" y="260" width="1" height="11" fill="#000"/><rect x="1075" y="271" width="5" height="1" fill="#000"/><rect x="1085" y="258" width="1" height="21" fill="#000"/><rect x="1083" y="262" width="5" height="7" fill="#000"/><rect x="1084" y="263" width="3" height="5" fill="#fff"/><rect x="1093" y="254" width="1" height="30" fill="#000"/><rect x="1091" y="262" width="5" height="5" fill="#000"/><rect x="1101" y="235" width="1" height="44" fill="#000"/><rect x="1099" y="240" width="5" height="26" fill="#000"/><rect x="1100" y="241" width="3" height="24" fill="#fff"/><rect x="1109" y="225" width="1" height="23" fill="#000"/><rect x="1107" y="240" width="5" height="4" fill="#000"/><rect x="1117" y="238" width="1" height="10" fill="#000"/><rect x="1115" y="240" width="5" height="4" fill="#000"/><rect x="1116" y="241" width="3" height="2" fill="#fff"/><rect x="1125" y="238" width="1" height="7" fill="#000"/><rect x="1123" y="240" width="5" height="1" fill="#000"/><rect x="1133" y="239" width="1" height="21" fill="#000"/><rect x="1131" y="240" width="5" height="14" fill="#000"/><rect x="1141" y="239" width="1" height="48" fill="#000"/><rect x="1139" y="253" width="5" height="17" fill="#000"/><rect x="1149" y="262" width="1" height="38" fill="#000"/><rect x="1147" y="269" width="5" height="25" fill="#000"/><rect x="1157" y="279" width="1" height="36" fill="#000"/><rect x="1155" y="283" width="5" height="11" fill="#000"/><rect x="1156" y="284" width="3" height="9" fill="#fff"/><rect x="1165" y="279" width="1" height="20" fill="#000"/><rect x="1163" y="284" width="5" height="5" fill="#000"/><rect x="1173" y="278" width="1" height="10" fill="#000"/><rect x="1171" y="285" width="5" height="3" fill="#000"/><rect x="1172" y="286" width="3" height="1" fill="#fff"/><rect x="1181" y="278" width="1" height="62" fill="#000"/><rect x="1179" y="285" width="5" height="53" fill="#000"/><rect x="1189" y="299" width="1" height="53" fill="#000"/><rect x="1187" y="336" width="5" height="11" fill="#000"/><rect x="1197" y="292" width="1" height="55" fill="#000"/><rect x="1195" y="293" width="5" height="54" fill="#000"/><rect x="1196" y="294" width="3" height="52" fill="#fff"/><rect x="1205" y="277" width="1" height="42" fill="#000"/><rect x="1203" y="293" width="5" height="21" fill="#000"/><rect x="1213" y="301" width="1" height="11" fill="#000"/><rect x="1211" y="305" width="5" height="1" fill="#000"/><rect x="1221" y="305" width="1" height="28" fill="#000"/><rect x="1219" y="305" width="5" height="15" fill="#000"/><rect x="1229" y="301" width="1" height="19" fill="#000"/><rect x="1227" y="310" width="5" height="10" fill="#000"/><rect x="1228" y="311" width="3" height="8" fill="#fff"/><rect x="1237" y="305" width="1" height="28" fill="#000"/><rect x="1235" y="309" width="5" height="9" fill="#000"/><rect x="1245" y="292" width="1" height="32" fill="#000"/><rect x="1243" y="300" width="5" height="18" fill="#000"/><rect x="1244" y="301" width="3" height="16" fill="#fff"/><rect x="1253" y="284" width="1" height="41" fill="#000"/><rect x="1251" y="286" width="5" height="15" fill="#000"/><rect x="1252" y="287" width="3" height="13" fill="#fff"/><rect x="1261" y="279" width="1" height="45" fill="#000"/><rect x="1259" y="286" width="5" height="18" fill="#000"/><rect x="1269" y="301" width="1" height="16" fill="#000"/><rect x="1267" y="304" width="5" height="6" fill="#000"/><rect x="1277" y="304" width="1" height="13" fill="#000"/><rect x="1275" y="310" width="5" height="3" fill="#000"/><rect x="1285" y="288" width="1" height="27" fill="#000"/><rect x="1283" y="310" width="5" height="3" fill="#000"/><rect x="1284" y="311" width="3" height="1" fill="#fff"/><rect x="1293" y="289" width="1" height="26" fill="#000"/><rect x="1291" y="292" width="5" height="18" fill="#000"/><rect x="1292" y="293" width="3" height="16" fill="#fff"/><rect x="1301" y="259" width="1" height="35" fill="#000"/><rect x="1299" y="278" width="5" height="15" fill="#000"/><rect x="1300" y="279" width="3" height="13" fill="#fff"/><rect x="1309" y="247" width="1" height="36" fill="#000"/><rect x="1307" y="249" width="5" height="29" fill="#000"/><rect x="1308" y="250" width="3" height="27" fill="#fff"/><rect x="1317" y="245" width="1" height="11" fill="#000"/><rect x="1315" y="245" width="5" height="4" fill="#000"/><rect x="1316" y="246" width="3" height="2" fill="#fff"/><rect x="1325" y="236" width="1" height="15" fill="#000"/><rect x="1323" y="246" width="5" height="1" fill="#000"/><rect x="1333" y="230" width="1" height="21" fill="#000"/><rect x="1331" y="234" width="5" height="15" fill="#000"/><rect x="1332" y="235" width="3" height="13" fill="#fff"/><rect x="1341" y="212" width="1" height="22" fill="#000"/><rect x="1339" y="212" width="5" height="22" fill="#000"/><rect x="1340" y="213" width="3" height="20" fill="#fff"/><rect x="1349" y="208" width="1" height="22" fill="#000"/><rect x="1347" y="212" width="5" height="8" fill="#000"/><rect x="1357" y="204" width="1" height="24" fill="#000"/><rect x="1355" y="211" width="5" height="9" fill="#000"/><rect x="1356" y="212" width="3" height="7" fill="#fff"/><rect x="1365" y="207" width="1" height="18" fill="#000"/><rect x="1363" y="210" width="5" height="9" fill="#000"/><rect x="1373" y="210" width="1" height="11" fill="#000"/><rect x="1371" y="210" width="5" height="9" fill="#000"/><rect x="1372" y="211" width="3" height="7" fill="#fff"/><rect x="1381" y="205" width="1" height="15" fill="#000"/><rect x="1379" y="210" width="5" height="4" fill="#000"/><rect x="1389" y="203" width="1" height="56" fill="#000"/><rect x="1387" y="213" width="5" height="20" fill="#000"/><rect x="1397" y="220" width="1" height="71" fill="#000"/><rect x="1395" y="231" width="5" height="57" fill="#000"/><rect x="1405" y="274" width="1" height="34" fill="#000"/><rect x="1403" y="288" width="5" height="3" fill="#000"/></g><polyline points="1203,342 1355,203 1426,323" fill="none" stroke="#ff0000" stroke-width="3.2" stroke-linejoin="miter"/><polygon points="1428.0,326.0 1416.2,317.9 1426.5,311.8" fill="#ff0000"/><polygon points="1358.0,201.0 1353.2,213.5 1345.1,204.6" fill="#ff0000"/><rect x="1347.5" y="199.5" width="4" height="4" fill="#fff" stroke="#ff0000"/><rect x="1356" y="273" width="112" height="6" fill="#00ff00"/><g><rect x="5" y="646" width="1" height="13" fill="#c0c0c0"/><rect x="13" y="645" width="1" height="14" fill="#c0c0c0"/><rect x="21" y="645" width="1" height="14" fill="#c0c0c0"/><rect x="29" y="644" width="1" height="15" fill="#c0c0c0"/><rect x="37" y="643" width="1" height="16" fill="#c0c0c0"/><rect x="45" y="641" width="1" height="18" fill="#c0c0c0"/><rect x="53" y="637" width="1" height="22" fill="#c0c0c0"/><rect x="61" y="635" width="1" height="24" fill="#c0c0c0"/><rect x="69" y="635" width="1" height="24" fill="#c0c0c0"/><rect x="77" y="635" width="1" height="24" fill="#c0c0c0"/><rect x="85" y="635" width="1" height="24" fill="#c0c0c0"/><rect x="93" y="635" width="1" height="24" fill="#c0c0c0"/><rect x="101" y="635" width="1" height="24" fill="#c0c0c0"/><rect x="109" y="634" width="1" height="25" fill="#c0c0c0"/><rect x="117" y="638" width="1" height="21" fill="#c0c0c0"/><rect x="125" y="643" width="1" height="16" fill="#c0c0c0"/><rect x="133" y="650" width="1" height="9" fill="#c0c0c0"/><rect x="141" y="654" width="1" height="5" fill="#c0c0c0"/><rect x="149" y="656" width="1" height="3" fill="#c0c0c0"/><rect x="157" y="659" width="1" height="0" fill="#c0c0c0"/><rect x="165" y="659" width="1" height="3" fill="#c0c0c0"/><rect x="173" y="659" width="1" height="7" fill="#c0c0c0"/><rect x="181" y="659" width="1" height="9" fill="#c0c0c0"/><rect x="189" y="659" width="1" height="10" fill="#c0c0c0"/><rect x="197" y="659" width="1" height="12" fill="#c0c0c0"/><rect x="205" y="659" width="1" height="15" fill="#c0c0c0"/><rect x="213" y="659" width="1" height="14" fill="#c0c0c0"/><rect x="221" y="659" width="1" height="14" fill="#c0c0c0"/><rect x="229" y="659" width="1" height="16" fill="#c0c0c0"/><rect x="237" y="659" width="1" height="17" fill="#c0c0c0"/><rect x="245" y="659" width="1" height="16" fill="#c0c0c0"/><rect x="253" y="659" width="1" height="20" fill="#c0c0c0"/><rect x="261" y="659" width="1" height="24" fill="#c0c0c0"/><rect x="269" y="659" width="1" height="25" fill="#c0c0c0"/><rect x="277" y="659" width="1" height="24" fill="#c0c0c0"/><rect x="285" y="659" width="1" height="23" fill="#c0c0c0"/><rect x="293" y="659" width="1" height="21" fill="#c0c0c0"/><rect x="301" y="659" width="1" height="20" fill="#c0c0c0"/><rect x="309" y="659" width="1" height="16" fill="#c0c0c0"/><rect x="317" y="659" width="1" height="12" fill="#c0c0c0"/><rect x="325" y="659" width="1" height="8" fill="#c0c0c0"/><rect x="333" y="659" width="1" height="5" fill="#c0c0c0"/><rect x="341" y="659" width="1" height="3" fill="#c0c0c0"/><rect x="349" y="659" width="1" height="2" fill="#c0c0c0"/><rect x="357" y="659" width="1" height="1" fill="#c0c0c0"/><rect x="365" y="659" width="1" height="0" fill="#c0c0c0"/><rect x="373" y="659" width="1" height="0" fill="#c0c0c0"/><rect x="381" y="658" width="1" height="1" fill="#c0c0c0"/><rect x="389" y="657" width="1" height="2" fill="#c0c0c0"/><rect x="397" y="656" width="1" height="3" fill="#c0c0c0"/><rect x="405" y="657" width="1" height="2" fill="#c0c0c0"/><rect x="413" y="659" width="1" height="0" fill="#c0c0c0"/><rect x="421" y="659" width="1" height="2" fill="#c0c0c0"/><rect x="429" y="659" width="1" height="2" fill="#c0c0c0"/><rect x="437" y="659" width="1" height="3" fill="#c0c0c0"/><rect x="445" y="659" width="1" height="9" fill="#c0c0c0"/><rect x="453" y="659" width="1" height="15" fill="#c0c0c0"/><rect x="461" y="659" width="1" height="16" fill="#c0c0c0"/><rect x="469" y="659" width="1" height="17" fill="#c0c0c0"/><rect x="477" y="659" width="1" height="18" fill="#c0c0c0"/><rect x="485" y="659" width="1" height="18" fill="#c0c0c0"/><rect x="493" y="659" width="1" height="17" fill="#c0c0c0"/><rect x="501" y="659" width="1" height="16" fill="#c0c0c0"/><rect x="509" y="659" width="1" height="15" fill="#c0c0c0"/><rect x="517" y="659" width="1" height="15" fill="#c0c0c0"/><rect x="525" y="659" width="1" height="16" fill="#c0c0c0"/><rect x="533" y="659" width="1" height="17" fill="#c0c0c0"/><rect x="541" y="659" width="1" height="20" fill="#c0c0c0"/><rect x="549" y="659" width="1" height="26" fill="#c0c0c0"/><rect x="557" y="659" width="1" height="30" fill="#c0c0c0"/><rect x="565" y="659" width="1" height="35" fill="#c0c0c0"/><rect x="573" y="659" width="1" height="39" fill="#c0c0c0"/><rect x="581" y="659" width="1" height="44" fill="#c0c0c0"/><rect x="589" y="659" width="1" height="42" fill="#c0c0c0"/><rect x="597" y="659" width="1" height="42" fill="#c0c0c0"/><rect x="605" y="659" width="1" height="44" fill="#c0c0c0"/><rect x="613" y="659" width="1" height="47" fill="#c0c0c0"/><rect x="621" y="659" width="1" height="47" fill="#c0c0c0"/><rect x="629" y="659" width="1" height="47" fill="#c0c0c0"/><rect x="637" y="659" width="1" height="46" fill="#c0c0c0"/><rect x="645" y="659" width="1" height="41" fill="#c0c0c0"/><rect x="653" y="659" width="1" height="41" fill="#c0c0c0"/><rect x="661" y="659" width="1" height="46" fill="#c0c0c0"/><rect x="669" y="659" width="1" height="54" fill="#c0c0c0"/><rect x="677" y="659" width="1" height="54" fill="#c0c0c0"/><rect x="685" y="659" width="1" height="57" fill="#c0c0c0"/><rect x="693" y="659" width="1" height="56" fill="#c0c0c0"/><rect x="701" y="659" width="1" height="62" fill="#c0c0c0"/><rect x="709" y="659" width="1" height="68" fill="#c0c0c0"/><rect x="717" y="659" width="1" height="69" fill="#c0c0c0"/><rect x="725" y="659" width="1" height="67" fill="#c0c0c0"/><rect x="733" y="659" width="1" height="67" fill="#c0c0c0"/><rect x="741" y="659" width="1" height="68" fill="#c0c0c0"/><rect x="749" y="659" width="1" height="78" fill="#c0c0c0"/><rect x="757" y="659" width="1" height="83" fill="#c0c0c0"/><rect x="765" y="659" width="1" height="76" fill="#c0c0c0"/><rect x="773" y="659" width="1" height="75" fill="#c0c0c0"/><rect x="781" y="659" width="1" height="72" fill="#c0c0c0"/><rect x="789" y="659" width="1" height="69" fill="#c0c0c0"/><rect x="797" y="659" width="1" height="69" fill="#c0c0c0"/><rect x="805" y="659" width="1" height="57" fill="#c0c0c0"/><rect x="813" y="659" width="1" height="52" fill="#c0c0c0"/><rect x="821" y="659" width="1" height="47" fill="#c0c0c0"/><rect x="829" y="659" width="1" height="42" fill="#c0c0c0"/><rect x="837" y="659" width="1" height="32" fill="#c0c0c0"/><rect x="845" y="659" width="1" height="28" fill="#c0c0c0"/><rect x="853" y="659" width="1" height="27" fill="#c0c0c0"/><rect x="861" y="659" width="1" height="26" fill="#c0c0c0"/><rect x="869" y="659" width="1" height="34" fill="#c0c0c0"/><rect x="877" y="659" width="1" height="37" fill="#c0c0c0"/><rect x="885" y="659" width="1" height="33" fill="#c0c0c0"/><rect x="893" y="659" width="1" height="25" fill="#c0c0c0"/><rect x="901" y="659" width="1" height="26" fill="#c0c0c0"/><rect x="909" y="659" width="1" height="23" fill="#c0c0c0"/><rect x="917" y="659" width="1" height="21" fill="#c0c0c0"/><rect x="925" y="659" width="1" height="18" fill="#c0c0c0"/><rect x="933" y="659" width="1" height="21" fill="#c0c0c0"/><rect x="941" y="659" width="1" height="21" fill="#c0c0c0"/><rect x="949" y="659" width="1" height="17" fill="#c0c0c0"/><rect x="957" y="659" width="1" height="9" fill="#c0c0c0"/><rect x="965" y="659" width="1" height="3" fill="#c0c0c0"/><rect x="973" y="656" width="1" height="3" fill="#c0c0c0"/><rect x="981" y="651" width="1" height="8" fill="#c0c0c0"/><rect x="989" y="650" width="1" height="9" fill="#c0c0c0"/><rect x="997" y="647" width="1" height="12" fill="#c0c0c0"/><rect x="1005" y="640" width="1" height="19" fill="#c0c0c0"/><rect x="1013" y="634" width="1" height="25" fill="#c0c0c0"/><rect x="1021" y="630" width="1" height="29" fill="#c0c0c0"/><rect x="1029" y="626" width="1" height="33" fill="#c0c0c0"/><rect x="1037" y="624" width="1" height="35" fill="#c0c0c0"/><rect x="1045" y="621" width="1" height="38" fill="#c0c0c0"/><rect x="1053" y="619" width="1" height="40" fill="#c0c0c0"/><rect x="1061" y="615" width="1" height="44" fill="#c0c0c0"/><rect x="1069" y="612" width="1" height="47" fill="#c0c0c0"/><rect x="1077" y="610" width="1" height="49" fill="#c0c0c0"/><rect x="1085" y="608" width="1" height="51" fill="#c0c0c0"/><rect x="1093" y="608" width="1" height="51" fill="#c0c0c0"/><rect x="1101" y="605" width="1" height="54" fill="#c0c0c0"/><rect x="1109" y="604" width="1" height="55" fill="#c0c0c0"/><rect x="1117" y="604" width="1" height="55" fill="#c0c0c0"/><rect x="1125" y="604" width="1" height="55" fill="#c0c0c0"/><rect x="1133" y="606" width="1" height="53" fill="#c0c0c0"/><rect x="1141" y="610" width="1" height="49" fill="#c0c0c0"/><rect x="1149" y="617" width="1" height="42" fill="#c0c0c0"/><rect x="1157" y="622" width="1" height="37" fill="#c0c0c0"/><rect x="1165" y="626" width="1" height="33" fill="#c0c0c0"/><rect x="1173" y="630" width="1" height="29" fill="#c0c0c0"/><rect x="1181" y="639" width="1" height="20" fill="#c0c0c0"/><rect x="1189" y="647" width="1" height="12" fill="#c0c0c0"/><rect x="1197" y="648" width="1" height="11" fill="#c0c0c0"/><rect x="1205" y="651" width="1" height="8" fill="#c0c0c0"/><rect x="1213" y="653" width="1" height="6" fill="#c0c0c0"/><rect x="1221" y="656" width="1" height="3" fill="#c0c0c0"/><rect x="1229" y="657" width="1" height="2" fill="#c0c0c0"/><rect x="1237" y="659" width="1" height="0" fill="#c0c0c0"/><rect x="1245" y="658" width="1" height="1" fill="#c0c0c0"/><rect x="1253" y="656" width="1" height="3" fill="#c0c0c0"/><rect x="1261" y="656" width="1" height="3" fill="#c0c0c0"/><rect x="1269" y="658" width="1" height="1" fill="#c0c0c0"/><rect x="1277" y="659" width="1" height="0" fill="#c0c0c0"/><rect x="1285" y="659" width="1" height="0" fill="#c0c0c0"/><rect x="1293" y="657" width="1" height="2" fill="#c0c0c0"/><rect x="1301" y="654" width="1" height="5" fill="#c0c0c0"/><rect x="1309" y="649" width="1" height="10" fill="#c0c0c0"/><rect x="1317" y="645" width="1" height="14" fill="#c0c0c0"/><rect x="1325" y="642" width="1" height="17" fill="#c0c0c0"/><rect x="1333" y="638" width="1" height="21" fill="#c0c0c0"/><rect x="1341" y="632" width="1" height="27" fill="#c0c0c0"/><rect x="1349" y="629" width="1" height="30" fill="#c0c0c0"/><rect x="1357" y="626" width="1" height="33" fill="#c0c0c0"/><rect x="1365" y="625" width="1" height="34" fill="#c0c0c0"/><rect x="1373" y="623" width="1" height="36" fill="#c0c0c0"/><rect x="1381" y="624" width="1" height="35" fill="#c0c0c0"/><rect x="1389" y="627" width="1" height="32" fill="#c0c0c0"/><rect x="1397" y="631" width="1" height="28" fill="#c0c0c0"/><rect x="1405" y="642" width="1" height="17" fill="#c0c0c0"/></g><polyline points="0.0,641.6 49.6,642.6 59.5,640.8 81.8,638.4 104.0,635.9 116.5,635.4 128.8,638.4 148.7,644.0 173.4,655.2 198.2,664.9 223.0,670.6 247.8,674.3 267.6,678.7 302.3,681.7 319.6,681.2 346.9,674.8 376.6,665.6 401.4,660.7 418.7,660.0 424.8,659.4 449.6,661.4 474.3,666.9 499.1,673.8 523.9,676.3 548.7,676.8 566.0,680.5 585.8,687.2 610.6,696.6 635.4,704.0 660.2,704.0 697.3,709.5 709.7,712.7 734.5,721.9 759.3,728.8 771.7,731.3 796.4,732.5 820.0,727.6 822.5,725.1 844.8,709.5 869.6,696.6 894.3,689.9 931.5,686.2 948.8,682.2 981.0,669.3 1005.8,658.9 1030.6,643.3 1055.4,631.7 1080.2,619.3 1104.9,611.8 1129.7,606.9 1154.5,606.9 1179.3,615.3 1204.0,631.7 1228.8,644.6 1244.8,651.5 1269.6,655.2 1294.3,656.9 1319.1,654.0 1343.9,646.5 1368.7,635.9 1393.4,627.7 1405.0,627.2" fill="none" stroke="#ff0000" stroke-width="1" stroke-dasharray="3,2"/><line x1="1365" y1="615.5" x2="1410" y2="638.5" stroke="#ff0000" stroke-width="3.2"/><polygon points="1419.0,643.0 1405.6,642.9 1411.0,632.2" fill="#ff0000"/><line x1="0" y1="788.5" x2="1648" y2="788.5" stroke="#c0c0c0" stroke-width="1" stroke-dasharray="3,3"/><line x1="0" y1="839.5" x2="1648" y2="839.5" stroke="#c0c0c0" stroke-width="1" stroke-dasharray="3,3"/><line x1="0" y1="900.5" x2="1648" y2="900.5" stroke="#c0c0c0" stroke-width="1" stroke-dasharray="3,3"/><polyline points="0.0,820.8 5.5,833.9 13.5,823.3 21.5,822.0 29.5,817.1 37.5,813.4 45.5,809.1 53.5,798.5 61.5,803.4 69.5,814.6 77.5,819.1 85.5,814.6 93.5,813.4 101.5,807.2 109.5,838.1 117.5,848.0 125.5,860.4 133.5,851.3 141.5,845.1 149.5,857.2 157.5,853.0 165.5,854.2 173.5,854.2 181.5,854.2 189.5,859.7 197.5,864.2 205.5,846.3 213.5,854.7 221.5,858.7 229.5,855.5 237.5,847.3 245.5,850.5 253.5,875.3 261.5,856.7 269.5,851.3 277.5,850.5 285.5,850.5 293.5,846.3 301.5,859.2 309.5,839.9 317.5,838.1 325.5,836.4 333.5,835.7 341.5,836.4 349.5,835.7 357.5,838.9 365.5,835.7 373.5,840.6 381.5,842.3 389.5,835.7 397.5,828.2 405.5,835.7 413.5,847.3 421.5,849.8 429.5,846.3 437.5,847.3 445.5,862.9 453.5,867.1 461.5,853.7 469.5,854.7 477.5,856.2 485.5,853.0 493.5,849.3 501.5,850.5 509.5,851.3 517.5,851.3 525.5,855.5 533.5,859.2 541.5,869.1 549.5,883.5 557.5,871.6 565.5,876.0 573.5,879.5 581.5,883.5 589.5,859.7 597.5,863.7 605.5,867.9 613.5,877.0 621.5,864.2 629.5,864.2 637.5,864.2 645.5,845.6 653.5,856.2 661.5,872.1 669.5,875.3 677.5,865.4 685.5,868.6 693.5,862.9 701.5,874.1 709.5,877.0 717.5,867.1 725.5,863.7 733.5,865.4 741.5,870.3 749.5,882.0 757.5,881.5 765.5,851.3 773.5,859.2 781.5,856.2 789.5,857.2 797.5,862.2 805.5,839.9 813.5,846.3 821.5,845.6 829.5,846.3 837.5,834.4 845.5,841.9 853.5,846.3 861.5,846.3 869.5,862.2 877.5,854.2 885.5,844.3 893.5,831.9 901.5,847.3 909.5,842.3 917.5,841.4 925.5,841.4 933.5,849.3 941.5,846.8 949.5,839.9 957.5,831.4 965.5,831.4 973.5,827.5 981.5,829.5 989.5,835.7 997.5,830.7 1005.5,823.3 1013.5,822.5 1021.5,822.5 1029.5,820.8 1037.5,822.5 1045.5,819.6 1053.5,817.1 1061.5,813.4 1069.5,812.6 1077.5,812.6 1085.5,810.1 1093.5,812.6 1101.5,805.9 1109.5,807.7 1117.5,806.7 1125.5,807.7 1133.5,815.8 1141.5,824.5 1149.5,836.4 1157.5,832.4 1165.5,834.4 1173.5,833.9 1181.5,855.5 1189.5,858.0 1197.5,836.9 1205.5,843.1 1213.5,840.6 1221.5,844.8 1229.5,841.4 1237.5,844.3 1245.5,837.0 1253.5,832.8 1261.5,838.0 1269.5,841.1 1277.5,843.2 1285.5,841.1 1293.5,833.2 1301.5,828.3 1309.5,818.4 1317.5,817.3 1325.5,817.9 1333.5,813.5 1341.5,806.5 1349.5,812.4 1357.5,809.4 1365.5,814.3 1373.5,811.4 1381.5,814.3 1389.5,825.8 1397.5,851.1 1405.5,851.5" fill="none" stroke="#1e90ff" stroke-width="1" /><line x1="1358" y1="800" x2="1406" y2="849" stroke="#ff0000" stroke-width="3.2"/><polygon points="1414.0,857.0 1400.6,851.9 1409.2,843.5" fill="#ff0000"/><rect x="0" y="25" width="1649" height="1" fill="#000"/><rect x="1648" y="25" width="1" height="902" fill="#000"/><rect x="0" y="592" width="1649" height="1" fill="#000"/><rect x="0" y="594" width="1649" height="1" fill="#000"/><rect x="0" y="750" width="1649" height="1" fill="#000"/><rect x="0" y="752" width="1649" height="1" fill="#000"/><rect x="0" y="926" width="1649" height="1" fill="#000"/><rect x="1694" y="22" width="1" height="919" fill="#e3e3e3"/><g><rect x="1649" y="28" width="3" height="1" fill="#000"/><text x="1654" y="32" class="ax" textLength="33" lengthAdjust="spacingAndGlyphs">37010.0</text><rect x="1649" y="61" width="3" height="1" fill="#000"/><text x="1654" y="65" class="ax" textLength="33" lengthAdjust="spacingAndGlyphs">36772.0</text><rect x="1649" y="94" width="3" height="1" fill="#000"/><text x="1654" y="98" class="ax" textLength="33" lengthAdjust="spacingAndGlyphs">36534.0</text><rect x="1649" y="127" width="3" height="1" fill="#000"/><text x="1654" y="131" class="ax" textLength="33" lengthAdjust="spacingAndGlyphs">36296.0</text><rect x="1649" y="160" width="3" height="1" fill="#000"/><text x="1654" y="164" class="ax" textLength="33" lengthAdjust="spacingAndGlyphs">36051.0</text><rect x="1649" y="193" width="3" height="1" fill="#000"/><text x="1654" y="197" class="ax" textLength="33" lengthAdjust="spacingAndGlyphs">35813.0</text><rect x="1649" y="226" width="3" height="1" fill="#000"/><text x="1654" y="230" class="ax" textLength="33" lengthAdjust="spacingAndGlyphs">35575.0</text><rect x="1649" y="259" width="3" height="1" fill="#000"/><text x="1654" y="263" class="ax" textLength="33" lengthAdjust="spacingAndGlyphs">35337.0</text><rect x="1649" y="292" width="3" height="1" fill="#000"/><text x="1654" y="296" class="ax" textLength="33" lengthAdjust="spacingAndGlyphs">35099.0</text><rect x="1649" y="325" width="3" height="1" fill="#000"/><text x="1654" y="329" class="ax" textLength="33" lengthAdjust="spacingAndGlyphs">34861.0</text><rect x="1649" y="358" width="3" height="1" fill="#000"/><text x="1654" y="362" class="ax" textLength="33" lengthAdjust="spacingAndGlyphs">34623.0</text><rect x="1649" y="391" width="3" height="1" fill="#000"/><text x="1654" y="395" class="ax" textLength="33" lengthAdjust="spacingAndGlyphs">34385.0</text><rect x="1649" y="424" width="3" height="1" fill="#000"/><text x="1654" y="428" class="ax" textLength="33" lengthAdjust="spacingAndGlyphs">34147.0</text><rect x="1649" y="457" width="3" height="1" fill="#000"/><text x="1654" y="461" class="ax" textLength="33" lengthAdjust="spacingAndGlyphs">33909.0</text><rect x="1649" y="490" width="3" height="1" fill="#000"/><text x="1654" y="494" class="ax" textLength="33" lengthAdjust="spacingAndGlyphs">33671.0</text><rect x="1649" y="523" width="3" height="1" fill="#000"/><text x="1654" y="527" class="ax" textLength="33" lengthAdjust="spacingAndGlyphs">33433.0</text><rect x="1649" y="556" width="3" height="1" fill="#000"/><text x="1654" y="560" class="ax" textLength="33" lengthAdjust="spacingAndGlyphs">33195.0</text><rect x="1649" y="589" width="3" height="1" fill="#000"/><text x="1654" y="593" class="ax" textLength="33" lengthAdjust="spacingAndGlyphs">32957.0</text></g><rect x="1643.5" y="219.5" width="4" height="5" fill="#fff" stroke="#ff0000"/><rect x="1650" y="217" width="42" height="11" fill="#ff0000"/><text x="1652" y="226" class="ax" style="fill:#fff;stroke:none" textLength="37" lengthAdjust="spacingAndGlyphs">35605.1</text><rect x="1643.5" y="247.5" width="4" height="5" fill="#fff" stroke="#ff0000"/><rect x="1650" y="245" width="42" height="11" fill="#ff0000"/><text x="1652" y="254" class="ax" style="fill:#fff;stroke:none" textLength="37" lengthAdjust="spacingAndGlyphs">35403.1</text><rect x="1643.5" y="270.5" width="4" height="5" fill="#fff" stroke="#32cd32"/><rect x="1650" y="268" width="42" height="11" fill="#32cd32"/><text x="1652" y="277" class="ax" style="fill:#fff;stroke:none" textLength="37" lengthAdjust="spacingAndGlyphs">35237.2</text><rect x="1650" y="286" width="42" height="11" fill="#000000"/><text x="1652" y="295" class="ax" style="fill:#fff;stroke:none" textLength="37" lengthAdjust="spacingAndGlyphs">35116.0</text><rect x="1643.5" y="317.5" width="4" height="5" fill="#fff" stroke="#0000ff"/><rect x="1650" y="315" width="42" height="11" fill="#0000ff"/><text x="1652" y="324" class="ax" style="fill:#fff;stroke:none" textLength="37" lengthAdjust="spacingAndGlyphs">34898.1</text><rect x="1643.5" y="344.5" width="4" height="5" fill="#fff" stroke="#0000ff"/><rect x="1650" y="342" width="42" height="11" fill="#0000ff"/><text x="1652" y="351" class="ax" style="fill:#fff;stroke:none" textLength="37" lengthAdjust="spacingAndGlyphs">34703.4</text><text x="1652" y="605" class="ax" textLength="28" lengthAdjust="spacingAndGlyphs">312.26</text><rect x="1649" y="596" width="2" height="1" fill="#000"/><text x="1652" y="662" class="ax" textLength="17.8" lengthAdjust="spacingAndGlyphs">0.00</text><text x="1652" y="747" class="ax" textLength="31.0" lengthAdjust="spacingAndGlyphs">-451.29</text><text x="1652" y="764" class="ax" textLength="15.3" lengthAdjust="spacingAndGlyphs">100</text><text x="1652" y="792" class="ax" textLength="10.2" lengthAdjust="spacingAndGlyphs">80</text><text x="1652" y="843" class="ax" textLength="10.2" lengthAdjust="spacingAndGlyphs">50</text><text x="1652" y="904" class="ax" textLength="10.2" lengthAdjust="spacingAndGlyphs">15</text><text x="1652" y="922" class="ax" textLength="5.1" lengthAdjust="spacingAndGlyphs">0</text><rect x="1649" y="788" width="2" height="1" fill="#000"/><rect x="1649" y="839" width="2" height="1" fill="#000"/><rect x="1649" y="900" width="2" height="1" fill="#000"/><rect x="1649" y="658" width="2" height="1" fill="#000"/><rect x="1649" y="749" width="2" height="1" fill="#000"/><rect x="1649" y="754" width="2" height="1" fill="#000"/><g><text x="-15" y="939" class="ax" textLength="45.3" lengthAdjust="spacingAndGlyphs">3 Jan 2022</text><rect x="53" y="927" width="1" height="3" fill="#000"/><text x="52" y="939" class="ax" textLength="47.8" lengthAdjust="spacingAndGlyphs">4 Jan 12:00</text><rect x="117" y="927" width="1" height="3" fill="#000"/><text x="116" y="939" class="ax" textLength="47.8" lengthAdjust="spacingAndGlyphs">5 Jan 20:00</text><rect x="181" y="927" width="1" height="3" fill="#000"/><text x="180" y="939" class="ax" textLength="47.8" lengthAdjust="spacingAndGlyphs">7 Jan 04:00</text><rect x="245" y="927" width="1" height="3" fill="#000"/><text x="244" y="939" class="ax" textLength="52.9" lengthAdjust="spacingAndGlyphs">10 Jan 08:00</text><rect x="309" y="927" width="1" height="3" fill="#000"/><text x="308" y="939" class="ax" textLength="52.2" lengthAdjust="spacingAndGlyphs">11 Jan 16:00</text><rect x="373" y="927" width="1" height="3" fill="#000"/><text x="372" y="939" class="ax" textLength="52.9" lengthAdjust="spacingAndGlyphs">13 Jan 00:00</text><rect x="437" y="927" width="1" height="3" fill="#000"/><text x="436" y="939" class="ax" textLength="52.9" lengthAdjust="spacingAndGlyphs">14 Jan 08:00</text><rect x="501" y="927" width="1" height="3" fill="#000"/><text x="500" y="939" class="ax" textLength="52.9" lengthAdjust="spacingAndGlyphs">17 Jan 12:00</text><rect x="565" y="927" width="1" height="3" fill="#000"/><text x="564" y="939" class="ax" textLength="52.9" lengthAdjust="spacingAndGlyphs">18 Jan 20:00</text><rect x="629" y="927" width="1" height="3" fill="#000"/><text x="628" y="939" class="ax" textLength="52.9" lengthAdjust="spacingAndGlyphs">20 Jan 04:00</text><rect x="693" y="927" width="1" height="3" fill="#000"/><text x="692" y="939" class="ax" textLength="52.9" lengthAdjust="spacingAndGlyphs">21 Jan 12:00</text><rect x="757" y="927" width="1" height="3" fill="#000"/><text x="756" y="939" class="ax" textLength="52.9" lengthAdjust="spacingAndGlyphs">24 Jan 16:00</text><rect x="821" y="927" width="1" height="3" fill="#000"/><text x="820" y="939" class="ax" textLength="52.9" lengthAdjust="spacingAndGlyphs">26 Jan 00:00</text><rect x="885" y="927" width="1" height="3" fill="#000"/><text x="884" y="939" class="ax" textLength="52.9" lengthAdjust="spacingAndGlyphs">27 Jan 08:00</text><rect x="949" y="927" width="1" height="3" fill="#000"/><text x="948" y="939" class="ax" textLength="52.9" lengthAdjust="spacingAndGlyphs">28 Jan 16:00</text><rect x="1013" y="927" width="1" height="3" fill="#000"/><text x="1012" y="939" class="ax" textLength="52.9" lengthAdjust="spacingAndGlyphs">31 Jan 20:00</text><rect x="1077" y="927" width="1" height="3" fill="#000"/><text x="1076" y="939" class="ax" textLength="48.8" lengthAdjust="spacingAndGlyphs">2 Feb 04:00</text><rect x="1141" y="927" width="1" height="3" fill="#000"/><text x="1140" y="939" class="ax" textLength="48.8" lengthAdjust="spacingAndGlyphs">3 Feb 12:00</text><rect x="1205" y="927" width="1" height="3" fill="#000"/><text x="1204" y="939" class="ax" textLength="48.8" lengthAdjust="spacingAndGlyphs">4 Feb 20:00</text><rect x="1269" y="927" width="1" height="3" fill="#000"/><text x="1268" y="939" class="ax" textLength="48.8" lengthAdjust="spacingAndGlyphs">8 Feb 00:00</text><rect x="1333" y="927" width="1" height="3" fill="#000"/><text x="1332" y="939" class="ax" textLength="48.8" lengthAdjust="spacingAndGlyphs">9 Feb 08:00</text><rect x="1397" y="927" width="1" height="3" fill="#000"/><text x="1396" y="939" class="ax" textLength="53.9" lengthAdjust="spacingAndGlyphs">10 Feb 16:00</text></g><text x="-6" y="607" class="ax" textLength="123.4" lengthAdjust="spacingAndGlyphs">MACD(12,26,9) 88.65 151.42</text><text x="-6" y="765" class="ax" textLength="67.1" lengthAdjust="spacingAndGlyphs">RSI(14) 42.9690</text><text x="4" y="37" class="ax" textLength="39" lengthAdjust="spacingAndGlyphs">DJ30-,H4</text><text x="49" y="37" class="ax" textLength="33" lengthAdjust="spacingAndGlyphs">35139.0</text><text x="85" y="37" class="ax" textLength="33" lengthAdjust="spacingAndGlyphs">35236.0</text><text x="121" y="37" class="ax" textLength="33" lengthAdjust="spacingAndGlyphs">34989.0</text><text x="157" y="37" class="ax" textLength="33" lengthAdjust="spacingAndGlyphs">35116.0</text><polygon points="1409,26 1419,26 1414,31" fill="#c0c0c0"/></svg>

<div style="position:absolute;left:0px;top:45px;width:211px;height:57px;background:#fff"></div>
<div style="position:absolute;left:0;top:45px;width:44px;height:24px;background:linear-gradient(#f24b4b,#d01c1c);"></div>
<div style="position:absolute;left:4px;top:49px;color:#fff;font-size:13px;transform:scaleX(0.86);transform-origin:0 0">SELL</div>
<div style="position:absolute;left:0;top:68px;width:40px;height:1px;background:#a50000"></div>
<div style="position:absolute;left:159px;top:45px;width:52px;height:24px;background:linear-gradient(#f24b4b,#d01c1c);"></div>
<div style="position:absolute;left:172px;top:49px;color:#fff;font-size:13px;transform:scaleX(0.9);transform-origin:0 0">BUY</div>
<div style="position:absolute;left:163px;top:68px;width:44px;height:1px;background:#a50000"></div>
<div style="position:absolute;left:0;top:69px;width:101px;height:33px;background:linear-gradient(#e02a2a,#b00000);"></div>
<div style="position:absolute;left:103px;top:69px;width:108px;height:33px;background:linear-gradient(#e02a2a,#b00000);"></div>
<div style="position:absolute;left:8px;top:85px;color:#fff;font-size:12px;font-weight:bold;letter-spacing:0.3px">35114</div>
<div style="position:absolute;left:46px;top:68px;color:#fff;font-size:33px;line-height:33px;transform:scaleX(0.82);transform-origin:0 0">.5</div>
<div style="position:absolute;left:118px;top:85px;color:#fff;font-size:12px;font-weight:bold;letter-spacing:0.3px">35123</div>
<div style="position:absolute;left:156px;top:68px;color:#fff;font-size:33px;line-height:33px;transform:scaleX(0.82);transform-origin:0 0">.5</div>
<div style="position:absolute;left:46px;top:45px;width:111px;height:21px;background:#fff;border:1px solid #a8a8a8;box-sizing:border-box"></div>
<div style="position:absolute;left:47px;top:46px;width:20px;height:19px;background:linear-gradient(#f4f4f4,#d4d4d4);border-right:1px solid #b0b0b0"></div>
<div style="position:absolute;left:136px;top:46px;width:20px;height:19px;background:linear-gradient(#f4f4f4,#d4d4d4);border-left:1px solid #b0b0b0"></div>
<div style="position:absolute;left:54px;top:54px;width:0;height:0;border-left:3px solid transparent;border-right:3px solid transparent;border-top:3px solid #5060c0"></div>
<div style="position:absolute;left:143px;top:53px;width:0;height:0;border-left:3px solid transparent;border-right:3px solid transparent;border-bottom:3px solid #5060c0"></div>
<div style="position:absolute;left:100px;top:48px;width:33px;text-align:right;color:#000;font-size:13px;">1.00</div>

</body></html>
